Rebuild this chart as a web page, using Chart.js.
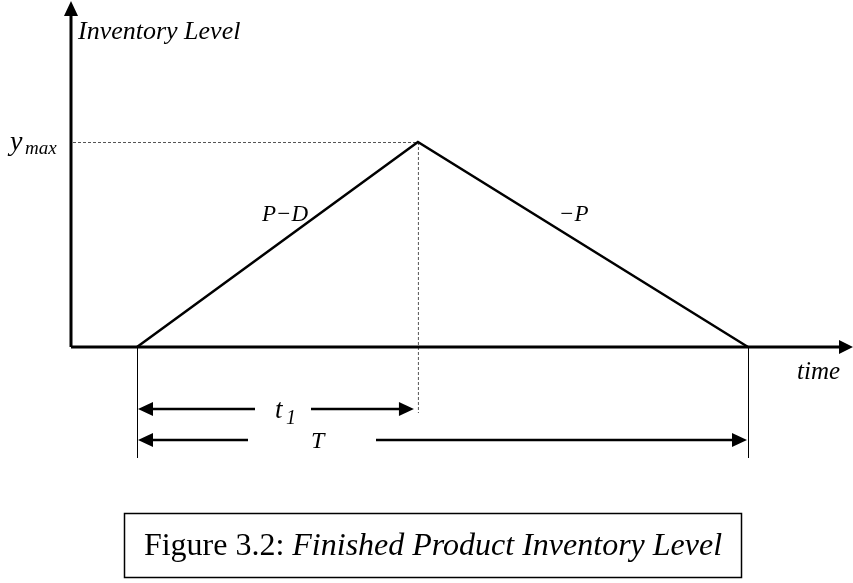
<!DOCTYPE html>
<html>
<head>
    <title>Finished Product Inventory Level</title>
    <script src="https://cdn.jsdelivr.net/npm/chart.js"></script>
    <style>
        body { margin: 0; background: #fff; }
        #wrap { width: 853px; height: 583px; position: relative; }
    </style>
</head>
<body>
<div id="wrap">
    <canvas id="myChart"></canvas>
</div>
<script>
// inventory path: builds up at P-D until t1, then drains at -P until T
const timePoints = [0, 4, 8.7];
const inventory = [0, 10, 0];
const slopeLabels = ['P\u2212D', '\u2212P'];
const axisLabels = { y: 'Inventory Level', x: 'time' };
const captionPlain = 'Figure 3.2: ';
const captionItalic = 'Finished Product Inventory Level';

const SERIF = '"Liberation Serif", "Times New Roman", serif';

function arrowHead(ctx, x, y, dir, len, half) {
    // dir: 'left' | 'right' | 'up'
    ctx.beginPath();
    if (dir === 'right') {
        ctx.moveTo(x, y); ctx.lineTo(x - len, y - half); ctx.lineTo(x - len, y + half);
    } else if (dir === 'left') {
        ctx.moveTo(x, y); ctx.lineTo(x + len, y - half); ctx.lineTo(x + len, y + half);
    } else {
        ctx.moveTo(x, y); ctx.lineTo(x - half, y + len); ctx.lineTo(x + half, y + len);
    }
    ctx.closePath();
    ctx.fill();
}

function line(ctx, x1, y1, x2, y2) {
    ctx.beginPath();
    ctx.moveTo(x1, y1);
    ctx.lineTo(x2, y2);
    ctx.stroke();
}

const diagramPlugin = {
    id: 'diagram',
    beforeDatasetsDraw(chart) {
        const ctx = chart.ctx;
        const xs = chart.scales.x, ys = chart.scales.y;
        const x0 = xs.getPixelForValue(timePoints[0]);
        const xt1 = xs.getPixelForValue(timePoints[1]);
        const xT = xs.getPixelForValue(timePoints[2]);
        const yBase = ys.getPixelForValue(0);
        const yMax = ys.getPixelForValue(inventory[1]);
        const axisX = 71;

        ctx.save();
        ctx.strokeStyle = '#000';
        ctx.fillStyle = '#000';

        // dotted guides
        ctx.lineWidth = 1;
        ctx.strokeStyle = '#555';
        ctx.setLineDash([3, 2]);
        line(ctx, axisX + 2, yMax + 0.5, xt1, yMax + 0.5);
        line(ctx, xt1 + 0.5, yMax, xt1 + 0.5, 413);
        ctx.setLineDash([]);

        // vertical extension lines
        ctx.strokeStyle = '#000';
        line(ctx, x0 + 0.5, yBase, x0 + 0.5, 458);
        line(ctx, xT + 0.5, yBase, xT + 0.5, 458);

        // axes
        ctx.lineWidth = 3;
        line(ctx, axisX, yBase, axisX, 14);
        arrowHead(ctx, axisX, 1, 'up', 15, 7);
        line(ctx, axisX, yBase, 842, yBase);
        arrowHead(ctx, 853, yBase, 'right', 14, 7);

        // span arrows
        ctx.lineWidth = 2.5;
        const yt1 = 409, yT = 440;
        line(ctx, x0 + 12, yt1, 255, yt1);
        arrowHead(ctx, x0 + 1, yt1, 'left', 15, 7);
        line(ctx, 311, yt1, xt1 - 12, yt1);
        arrowHead(ctx, xt1 - 4, yt1, 'right', 15, 7);
        line(ctx, x0 + 12, yT, 248, yT);
        arrowHead(ctx, x0 + 1, yT, 'left', 15, 7);
        line(ctx, 376, yT, xT - 12, yT);
        arrowHead(ctx, xT - 1, yT, 'right', 15, 7);

        // text
        ctx.textBaseline = 'alphabetic';
        ctx.textAlign = 'left';
        ctx.font = 'italic 26px ' + SERIF;
        ctx.fillText(axisLabels.y, 78, 39);
        ctx.font = 'italic 25px ' + SERIF;
        ctx.fillText(axisLabels.x, 797, 379);
        ctx.font = 'italic 23px ' + SERIF;
        ctx.fillText(slopeLabels[0], 262, 221);
        ctx.fillText(slopeLabels[1], 559, 221);
        ctx.font = 'italic 24px ' + SERIF;
        ctx.fillText('T', 311, 448);

        ctx.font = 'italic 28px ' + SERIF;
        ctx.fillText('y', 10, 150);
        ctx.font = 'italic 19px ' + SERIF;
        ctx.fillText('max', 25, 154);

        ctx.font = 'italic 27px ' + SERIF;
        ctx.fillText('t', 275, 418);
        ctx.font = 'italic 20px ' + SERIF;
        ctx.fillText('1', 286, 424);

        // caption box
        ctx.lineWidth = 1.5;
        ctx.strokeRect(124.5, 513.5, 617, 64);
        ctx.font = '32px ' + SERIF;
        const w1 = ctx.measureText(captionPlain).width;
        ctx.font = 'italic 32px ' + SERIF;
        const w2 = ctx.measureText(captionItalic).width;
        let tx = 433 - (w1 + w2) / 2;
        ctx.font = '32px ' + SERIF;
        ctx.fillText(captionPlain, tx, 555);
        ctx.font = 'italic 32px ' + SERIF;
        ctx.fillText(captionItalic, tx + w1, 555);

        ctx.restore();
    }
};

const ctx = document.getElementById('myChart').getContext('2d');
const pxPerT = (748 - 137) / timePoints[2];
const pxPerY = (347 - 142) / inventory[1];

const myChart = new Chart(ctx, {
    type: 'scatter',
    data: {
        datasets: [{
            data: timePoints.map((t, i) => ({ x: t, y: inventory[i] })),
            showLine: true,
            borderColor: '#000',
            borderWidth: 2.5,
            pointRadius: 0,
            tension: 0
        }]
    },
    options: {
        responsive: true,
        maintainAspectRatio: false,
        animation: false,
        layout: { padding: 0 },
        plugins: { legend: { display: false }, tooltip: { enabled: false } },
        scales: {
            x: { type: 'linear', display: false, min: -137 / pxPerT, max: (853 - 137) / pxPerT },
            y: { type: 'linear', display: false, min: -(583 - 347) / pxPerY, max: 347 / pxPerY }
        }
    },
    plugins: [diagramPlugin]
});
</script>
</body>
</html>
